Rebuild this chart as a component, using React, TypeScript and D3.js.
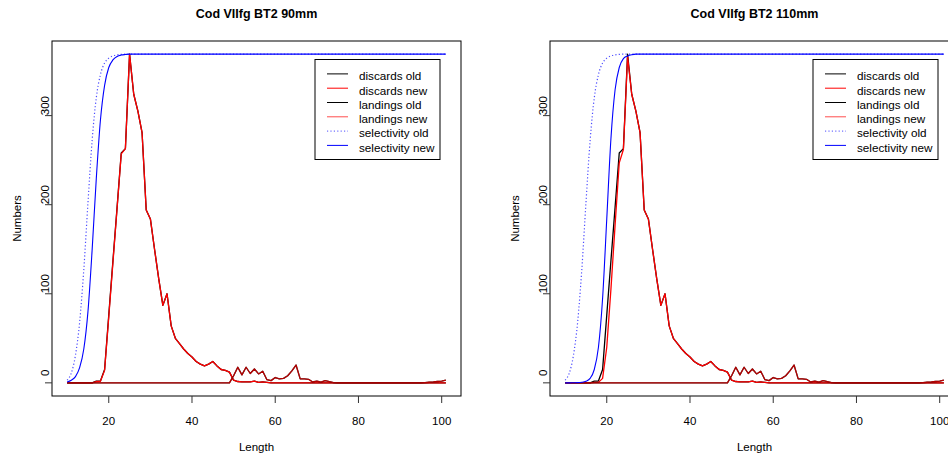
import React from 'react';
import * as d3 from 'd3';

// length classes (cm), 10..101
const lengths = d3.range(10, 102);

// numbers at length
const discardsOld = [
  0, 0, 0, 0, 0, 0, 0, 2, 2, 15,
  76, 137, 197, 258, 263, 369, 324, 305, 281, 194,
  184, 150, 117, 87, 100, 64, 50, 44, 38, 33,
  29, 24, 21, 19, 21, 24, 19, 15, 14, 12,
  3, 1.5, 1, 1, 1, 2, 0.5, 1, 0.5, 0,
  0, 0, 0, 0, 0, 0, 0, 0, 0, 0,
  0, 0, 0, 0, 0, 0, 0, 0, 0, 0,
  0, 0, 0, 0, 0, 0, 0, 0, 0, 0,
  0, 0, 0, 0, 0, 0, 0, 0, 0, 0,
  0, 0,
];
const discardsNew90 = [
  0, 0, 0, 0, 0, 0, 0, 1.5, 1.7, 14,
  74, 135, 196, 257, 263, 369, 324, 305, 281, 194,
  184, 150, 117, 87, 100, 64, 50, 44, 38, 33,
  29, 24, 21, 19, 21, 24, 19, 15, 14, 12,
  3, 1.5, 1, 1, 1, 2, 0.5, 1, 0.5, 0,
  0, 0, 0, 0, 0, 0, 0, 0, 0, 0,
  0, 0, 0, 0, 0, 0, 0, 0, 0, 0,
  0, 0, 0, 0, 0, 0, 0, 0, 0, 0,
  0, 0, 0, 0, 0, 0, 0, 0, 0, 0,
  0, 0,
];
const discardsNew110 = [
  0, 0, 0, 0, 0, 0, 0, 0.5, 0.5, 5,
  40, 105, 177, 247, 262, 366, 324, 305, 281, 194,
  184, 150, 117, 87, 100, 64, 50, 44, 38, 33,
  29, 24, 21, 19, 21, 24, 19, 15, 14, 12,
  3, 1.5, 1, 1, 1, 2, 0.5, 1, 0.5, 0,
  0, 0, 0, 0, 0, 0, 0, 0, 0, 0,
  0, 0, 0, 0, 0, 0, 0, 0, 0, 0,
  0, 0, 0, 0, 0, 0, 0, 0, 0, 0,
  0, 0, 0, 0, 0, 0, 0, 0, 0, 0,
  0, 0,
];
const landingsOld = [
  0, 0, 0, 0, 0, 0, 0, 0, 0, 0,
  0, 0, 0, 0, 0, 0, 0, 0, 0, 0,
  0, 0, 0, 0, 0, 0, 0, 0, 0, 0,
  0, 0, 0, 0, 0, 0, 0, 0, 0, 0,
  8, 17.5, 9, 17.5, 10.5, 15.5, 10, 13, 3.5, 2.5,
  6, 4.5, 5, 8, 13.5, 20, 4.5, 4.5, 4, 1,
  2, 0.8, 2.5, 1.5, 0.3, 0, 0, 0, 0, 0,
  0, 0, 0, 0, 0, 0, 0, 0, 0, 0,
  0, 0, 0, 0, 0, 0, 0.3, 0.7, 1, 1.5,
  2, 3,
];
const landingsNew = [
  0, 0, 0, 0, 0, 0, 0, 0, 0, 0,
  0, 0, 0, 0, 0, 0, 0, 0, 0, 0,
  0, 0, 0, 0, 0, 0, 0, 0, 0, 0,
  0, 0, 0, 0, 0, 0, 0, 0, 0, 0,
  8, 17.5, 9, 17.5, 10.5, 15.5, 10, 13, 3.5, 2.5,
  6, 4.5, 5, 8, 13.5, 20, 4.5, 4.5, 4, 1,
  2, 0.8, 2.5, 1.5, 0.3, 0, 0, 0, 0, 0,
  0, 0, 0, 0, 0, 0, 0, 0, 0, 0,
  0, 0, 0, 0, 0, 0, 0.3, 0.7, 1, 1.5,
  2, 3,
];
// selectivity curves, drawn on the numbers scale
const selOld = [
  3, 11, 31, 68, 127, 202, 272, 320, 346, 359,
  364.5, 367, 368.2, 368.7, 369, 369, 369, 369, 369, 369,
  369, 369, 369, 369, 369, 369, 369, 369, 369, 369,
  369, 369, 369, 369, 369, 369, 369, 369, 369, 369,
  369, 369, 369, 369, 369, 369, 369, 369, 369, 369,
  369, 369, 369, 369, 369, 369, 369, 369, 369, 369,
  369, 369, 369, 369, 369, 369, 369, 369, 369, 369,
  369, 369, 369, 369, 369, 369, 369, 369, 369, 369,
  369, 369, 369, 369, 369, 369, 369, 369, 369, 369,
  369, 369,
];
const selNew90 = [
  1, 3, 7, 17, 38, 80, 149, 229, 295, 334,
  354, 362.5, 366.4, 368, 368.6, 369, 369, 369, 369, 369,
  369, 369, 369, 369, 369, 369, 369, 369, 369, 369,
  369, 369, 369, 369, 369, 369, 369, 369, 369, 369,
  369, 369, 369, 369, 369, 369, 369, 369, 369, 369,
  369, 369, 369, 369, 369, 369, 369, 369, 369, 369,
  369, 369, 369, 369, 369, 369, 369, 369, 369, 369,
  369, 369, 369, 369, 369, 369, 369, 369, 369, 369,
  369, 369, 369, 369, 369, 369, 369, 369, 369, 369,
  369, 369,
];
const selNew110 = [
  0, 0, 0.1, 0.2, 0.6, 1.8, 5, 15, 40, 95,
  184, 274, 329, 354, 364, 367, 368.4, 369, 369, 369,
  369, 369, 369, 369, 369, 369, 369, 369, 369, 369,
  369, 369, 369, 369, 369, 369, 369, 369, 369, 369,
  369, 369, 369, 369, 369, 369, 369, 369, 369, 369,
  369, 369, 369, 369, 369, 369, 369, 369, 369, 369,
  369, 369, 369, 369, 369, 369, 369, 369, 369, 369,
  369, 369, 369, 369, 369, 369, 369, 369, 369, 369,
  369, 369, 369, 369, 369, 369, 369, 369, 369, 369,
  369, 369,
];

const xTicks = [20, 40, 60, 80, 100];
const yTicks = [0, 100, 200, 300];
const legendLabels = ['discards old', 'discards new', 'landings old', 'landings new', 'selectivity old', 'selectivity new'];

const panels = [
  { title: 'Cod VIIfg BT2 90mm', discardsNew: discardsNew90, selNew: selNew90 },
  { title: 'Cod VIIfg BT2 110mm', discardsNew: discardsNew110, selNew: selNew110 },
];

const W = 948;
const H = 457;
const FONT = '"Liberation Sans", Arial, Helvetica, sans-serif';

// styles for the six lines, in drawing order
const styles = [
  { color: '#000000', opacity: 1, dash: null, width: 1.3 },
  { color: '#ff0000', opacity: 1, dash: null, width: 1.3 },
  { color: '#000000', opacity: 1, dash: null, width: 1.3 },
  { color: '#ff0000', opacity: 0.7, dash: null, width: 1.3 },
  { color: '#0000ff', opacity: 0.7, dash: '1.2,2.2', width: 1.2 },
  { color: '#0000ff', opacity: 1, dash: null, width: 1.1 },
];

function Panel({ p, dx }) {
  const left = 52, right = 461, top = 41, bottom = 396;
  const [lo, hi] = d3.extent(lengths);
  const padX = (hi - lo) * 0.04;
  const yMax = d3.max([...discardsOld, ...p.discardsNew, ...landingsOld, ...landingsNew]);
  const x = d3.scaleLinear().domain([lo - padX, hi + padX]).range([left, right]);
  const y = d3.scaleLinear().domain([-yMax * 0.04, yMax * 1.04]).range([bottom, top]);

  const seriesVals = [discardsOld, p.discardsNew, landingsOld, landingsNew, selOld, p.selNew];

  const mkLine = (smooth) =>
    d3.line()
      .x((d) => x(d[0]))
      .y((d) => y(d[1]))
      .curve(smooth ? d3.curveMonotoneX : d3.curveLinear);

  const lgX = 315, lgY = 59.5, lgW = 125, lgH = 100, rowH = 14.3;

  return (
    <g transform={`translate(${dx},0)`} fontFamily={FONT}>
      <text x={(left + right) / 2} y={18} textAnchor="middle" fontWeight="bold" fontSize={12.5}>
        {p.title}
      </text>

      {seriesVals.map((vals, i) => {
        const s = styles[i];
        const pts = lengths.map((l, j) => [l, vals[j]]);
        const line = mkLine(i >= 4);
        return (
          <path
            key={i}
            d={line(pts)}
            fill="none"
            stroke={s.color}
            strokeOpacity={s.opacity}
            strokeWidth={s.width}
            strokeDasharray={s.dash || undefined}
            strokeLinejoin="round"
          />
        );
      })}

      <rect x={left} y={top} width={right - left} height={bottom - top} fill="none" stroke="#000" strokeWidth={1} />

      {xTicks.map((t) => (
        <g key={t}>
          <line x1={x(t)} x2={x(t)} y1={bottom} y2={bottom + 7} stroke="#333" />
          <text x={x(t)} y={425} textAnchor="middle" fontSize={11.5}>{t}</text>
        </g>
      ))}
      <text x={(left + right) / 2} y={451} textAnchor="middle" fontSize={11.5}>Length</text>

      {yTicks.map((t) => (
        <g key={t}>
          <line x1={left - 7} x2={left} y1={y(t)} y2={y(t)} stroke="#333" />
          <text
            transform={`translate(49,${y(t) - 10}) rotate(-90)`}
            textAnchor="middle"
            fontSize={11.5}
          >
            {t}
          </text>
        </g>
      ))}
      <text transform={`translate(20.5,${(top + bottom) / 2}) rotate(-90)`} textAnchor="middle" fontSize={11.5}>
        Numbers
      </text>

      <rect x={lgX} y={lgY} width={lgW} height={lgH} fill="white" stroke="#000" strokeWidth={1} />
      {legendLabels.map((lab, i) => {
        const s = styles[i];
        const ry = lgY + 16.2 + i * rowH;
        return (
          <g key={lab}>
            <line
              x1={lgX + 12}
              x2={lgX + 33}
              y1={ry - 1.8}
              y2={ry - 1.8}
              stroke={s.color}
              strokeOpacity={s.opacity}
              strokeWidth={1}
              strokeDasharray={s.dash || undefined}
            />
            <text x={lgX + 44} y={ry} dominantBaseline="central" fontSize={11.7}>{lab}</text>
          </g>
        );
      })}
    </g>
  );
}

export default function App() {
  return (
    <svg
      width={W}
      height={H}
      style={{ position: 'absolute', left: 0, top: 0, background: '#fff' }}
    >
      <rect width={W} height={H} fill="#fff" />
      {panels.map((p, i) => (
        <Panel key={p.title} p={p} dx={i * 498} />
      ))}
    </svg>
  );
}
